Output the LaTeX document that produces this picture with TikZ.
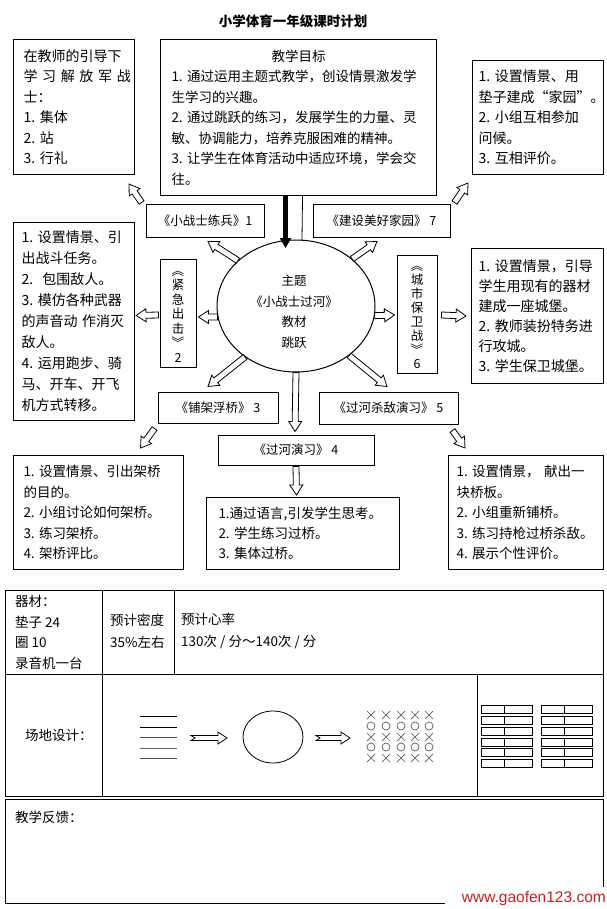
\documentclass[tikz,border=0pt]{standalone}
\usepackage{fontspec}
\usepackage{graphicx}
\setmainfont{Noto Sans CJK SC}
\newfontfamily\lpWebFont{Liberation Sans}
\usetikzlibrary{calc,shapes.geometric,arrows.meta}

\definecolor{lpWebRed}{RGB}{204,32,32}
\definecolor{lpMarkGray}{gray}{0.35}

\newcommand{\lpFont}[2]{\fontsize{#1}{#2}\selectfont}
\newcommand{\lpUp}{\rotatebox[origin=c]{-90}{《}}
\newcommand{\lpDown}{\rotatebox[origin=c]{-90}{》}}
% hollow block arrow from #1 to #2
\newcommand{\lpArrow}[2]{%
  \coordinate (lpS) at #1;
  \coordinate (lpE) at #2;
  \coordinate (lpH) at ($(lpE)!10pt!(lpS)$);
  \draw[lpHollow] ($(lpS)!3pt!90:(lpE)$) -- ($(lpH)!3pt!90:(lpE)$) -- ($(lpH)!6.5pt!90:(lpE)$) -- (lpE)
    -- ($(lpH)!6.5pt!-90:(lpE)$) -- ($(lpH)!3pt!-90:(lpE)$) -- ($(lpS)!3pt!-90:(lpE)$) -- cycle;}
% notched block arrow for the field plan
\newcommand{\lpNotchArrow}[2]{%
  \coordinate (lpS) at #1;
  \coordinate (lpE) at #2;
  \coordinate (lpH) at ($(lpE)!9pt!(lpS)$);
  \draw[lpHollow] ($(lpS)!2.5pt!90:(lpE)$) -- ($(lpH)!2.5pt!90:(lpE)$) -- ($(lpH)!6pt!90:(lpE)$) -- (lpE)
    -- ($(lpH)!6pt!-90:(lpE)$) -- ($(lpH)!2.5pt!-90:(lpE)$) -- ($(lpS)!2.5pt!-90:(lpE)$) -- ($(lpS)!4pt!(lpE)$) -- cycle;}

\tikzset{
  lpBox/.style={draw, line width=1pt, inner ysep=2pt, align=left, anchor=north west},
  lpTag/.style={draw, line width=1pt, inner sep=0pt, align=center, font={\lpFont{12.5}{15}}},
  lpHollow/.style={draw, fill=white, line width=0.8pt, line join=miter},
  lpCell/.style={anchor=west, inner sep=0pt, align=left, font={\lpFont{13.5}{20.5}}},
}

\begin{document}
\begin{tikzpicture}[x=1pt,y=-1pt]
\useasboundingbox (0,0) rectangle (606,909);
\node[font={\bfseries\lpFont{13.5}{16}}, inner sep=0pt] (title) at (293,21) {小学体育一年级课时计划};

% text boxes
\node[lpBox, inner xsep=10pt, text width=101pt, minimum height=135pt, font={\lpFont{14}{20.5}}] (trainBox) at (13,39) {在教师的引导下\\\makebox[\linewidth][s]{学 习 解 放 军 战}\\士：\\1.~集体\\2.~站\\3.~行礼};
\node[lpBox, inner xsep=11pt, text width=254pt, minimum height=156pt, font={\lpFont{13.5}{20.5}}] (goalBox) at (160,39) {\makebox[\linewidth]{教学目标}\\1.~通过运用主题式教学，创设情景激发学\\生学习的兴趣。\\2.~通过跳跃的练习，发展学生的力量、灵\\敏、协调能力，培养克服困难的精神。\\3.~让学生在体育活动中适应环境，学会交\\往。};
\node[lpBox, inner xsep=6pt, text width=119pt, minimum height=114pt, font={\lpFont{14}{20.5}}] (homeBox) at (472,60) {1.~设置情景、用\\垫子建成“家园”。\\2.~小组互相参加\\问候。\\3.~互相评价。};
\node[lpBox, inner xsep=8pt, text width=105pt, minimum height=198pt, font={\lpFont{14}{21}}] (rushBox) at (13,222) {1.~设置情景、引\\出战斗任务。\\2.~~包围敌人。\\3.~模仿各种武器\\的声音动~作消灭\\敌人。\\4.~运用跑步、骑\\马、开车、开飞\\机方式转移。};
\node[lpBox, inner xsep=7pt, text width=118pt, minimum height=135pt, font={\lpFont{14}{20}}] (defendBox) at (471,248) {1.~设置情景，引导\\学生用现有的器材\\建成一座城堡。\\2.~教师装扮特务进\\行攻城。\\3.~学生保卫城堡。};
\node[lpBox, inner xsep=10pt, text width=150pt, minimum height=114pt, font={\lpFont{13.5}{20.5}}] (bridgeBox) at (13,455) {1.~设置情景、引出架桥\\的目的。\\2.~小组讨论如何架桥。\\3.~练习架桥。\\4.~架桥评比。};
\node[lpBox, inner xsep=12pt, text width=169pt, minimum height=72pt, font={\lpFont{13.5}{20}}] (crossBox) at (206,497) {1.通过语言,引发学生思考。\\2.~学生练习过桥。\\3.~集体过桥。};
\node[lpBox, inner xsep=8pt, text width=139pt, minimum height=114pt, font={\lpFont{13.5}{20.5}}] (fightBox) at (448,455) {1.~设置情景，~献出一\\块桥板。\\2.~小组重新铺桥。\\3.~练习持枪过桥杀敌。\\4.~展示个性评价。};

% theme and tags
\node[draw, ellipse, line width=1pt, minimum width=158pt, minimum height=132pt] (theme) at (296,306) {};
\node[align=center, inner sep=0pt, font={\lpFont{12.5}{20.5}}] (themeText) at (294,312) {主题\\《小战士过河》\\教材\\跳跃};
\node[lpTag, minimum width=118pt, minimum height=32pt] (trainTag) at (205,221) {《小战士练兵》1};
\node[lpTag, minimum width=137pt, minimum height=32pt] (homeTag) at (381.5,221) {《建设美好家园》 7};
\node[lpTag, minimum width=36pt, minimum height=108pt, font={\lpFont{12.5}{14.5}}] (rushTag) at (178,313) {\lpUp\\紧\\急\\出\\击\\\lpDown\\2};
\node[lpTag, minimum width=40pt, minimum height=118pt, font={\lpFont{12.5}{14}}] (defendTag) at (417,314) {\lpUp\\城\\市\\保\\卫\\战\\\lpDown\\6};
\node[lpTag, minimum width=120pt, minimum height=31pt] (bridgeTag) at (218,407.5) {《铺架浮桥》 3};
\node[lpTag, minimum width=139pt, minimum height=32pt] (fightTag) at (388.5,408) {《过河杀敌演习》 5};
\node[lpTag, minimum width=156pt, minimum height=30pt] (crossTag) at (296,450) {《过河演习》 4};

% goal to theme
\draw[line width=5pt, -{Triangle[length=10pt,width=11pt]}] ($(goalBox.south)+(-13,0)$) -- ($(goalBox.south)+(-13,52)$);
\draw[line width=0.8pt] ($(goalBox.south)+(4,0)$) -- ($(theme.north)+(6,1)$);

% theme to tags
\lpArrow{(theme.142)}{($(trainTag.south)+(3,4)$)}
\lpArrow{(theme.40)}{($(homeTag.south)+(-4.5,4)$)}
\lpArrow{(theme.188)}{($(rushTag.east)+(2,4)$)}
\lpArrow{(theme.353)}{($(defendTag.west)+(-2,1)$)}
\lpArrow{(theme.225)}{($(bridgeTag.north)+(-10,-5)$)}
\lpArrow{(theme.317)}{($(fightTag.north)+(-1.5,-5)$)}
\lpArrow{(theme.south)}{($(crossTag.north)+(-1,-3)$)}

% tags to boxes
\lpArrow{($(trainTag.north west)+(-4,-2)$)}{($(trainBox.south east)+(-6,9)$)}
\lpArrow{($(homeTag.north east)+(4,-2)$)}{($(homeBox.south west)+(-4,8)$)}
\lpArrow{($(rushTag.west)+(-1,2)$)}{($(rushBox.east)+(1,-6)$)}
\lpArrow{($(defendTag.east)+(4,1)$)}{($(defendBox.west)+(-5,0)$)}
\lpArrow{($(bridgeTag.south west)+(-3,5)$)}{($(bridgeBox.north)+(42,-7)$)}
\lpArrow{($(fightTag.south east)+(-6,6)$)}{($(fightBox.north west)+(17,-7)$)}
\lpArrow{($(crossTag.south)+(0,1)$)}{($(crossBox.north)+(-6.5,-2)$)}

% table
\draw[line width=1pt] (5,590) rectangle (603,796);
\draw[line width=1pt] (5,674) -- (603,674);
\draw[line width=1pt] (102,590) -- (102,796);
\draw[line width=1pt] (174,590) -- (174,674);
\draw[line width=1pt] (477,674) -- (477,796);
\node[lpCell] (gearText) at (15,632.5) {器材：\\垫子 24\\圈 10\\录音机一台};
\node[lpCell, font={\lpFont{13.5}{22}}] (densityText) at (110,631) {预计密度\\35\%左右};
\node[lpCell, font={\lpFont{13.5}{22}}] (pulseText) at (181,631) {预计心率\\130次 / 分～140次 / 分};
\node[lpCell] (fieldText) at (25,735) {场地设计：};

% field plan
\draw[line width=1pt] (140,716) -- (177,716);
\draw[line width=1pt] (140,727) -- (177,727);
\draw[line width=1pt, black!70] (140,737) -- (177,737);
\draw[line width=1pt, black!60] (140,748) -- (177,748);
\draw[line width=1pt, black!70] (140,758) -- (177,758);
\lpNotchArrow{(191,738)}{(227,738)}
\draw[line width=0.8pt] (273,737) ellipse (30 and 26);
\lpNotchArrow{(316,738)}{(350,738)}
\draw[lpMarkGray, line width=0.7pt] (367,711) -- (375,719) (367,719) -- (375,711) (382,711) -- (390,719) (382,719) -- (390,711) (397,711) -- (405,719) (397,719) -- (405,711) (411,711) -- (419,719) (411,719) -- (419,711) (425,711) -- (433,719) (425,719) -- (433,711);
\draw[lpMarkGray, line width=0.7pt] (371,726) circle (4) (386,726) circle (4) (401,726) circle (4) (415,726) circle (4) (429,726) circle (4);
\draw[lpMarkGray, line width=0.7pt] (367,733) -- (375,741) (367,741) -- (375,733) (382,733) -- (390,741) (382,741) -- (390,733) (397,733) -- (405,741) (397,741) -- (405,733) (411,733) -- (419,741) (411,741) -- (419,733) (425,733) -- (433,741) (425,741) -- (433,733);
\draw[lpMarkGray, line width=0.7pt] (371,747) circle (4) (386,747) circle (4) (401,747) circle (4) (415,747) circle (4) (429,747) circle (4);
\draw[lpMarkGray, line width=0.7pt] (367,754) -- (375,762) (367,762) -- (375,754) (382,754) -- (390,762) (382,762) -- (390,754) (397,754) -- (405,762) (397,762) -- (405,754) (411,754) -- (419,762) (411,762) -- (419,754) (425,754) -- (433,762) (425,762) -- (433,754);
\draw[line width=1pt] (481,705) rectangle (532,713) (504,705) -- (504,713) (541,705) rectangle (592,713) (564,705) -- (564,713);
\draw[line width=1pt] (481,716) rectangle (532,724) (504,716) -- (504,724) (541,716) rectangle (592,724) (564,716) -- (564,724);
\draw[line width=1pt] (481,727) rectangle (532,735) (504,727) -- (504,735) (541,727) rectangle (592,735) (564,727) -- (564,735);
\draw[line width=1pt] (481,738) rectangle (532,746) (504,738) -- (504,746) (541,738) rectangle (592,746) (564,738) -- (564,746);
\draw[line width=1pt] (481,748) rectangle (532,756) (504,748) -- (504,756) (541,748) rectangle (592,756) (564,748) -- (564,756);
\draw[line width=1pt] (481,759) rectangle (532,767) (504,759) -- (504,767) (541,759) rectangle (592,767) (564,759) -- (564,767);

% feedback
\draw[line width=1pt] (5,799) rectangle (603,903);
\node[lpCell] (feedbackText) at (15,817) {教学反馈：};
\fill[white] (445,887) rectangle (606,909);
\node[font={\lpWebFont\fontsize{15.5}{16}\selectfont}, text=lpWebRed, anchor=east, inner sep=0pt] (webMark) at (606,898) {www.gaofen123.com};
\end{tikzpicture}
\end{document}
